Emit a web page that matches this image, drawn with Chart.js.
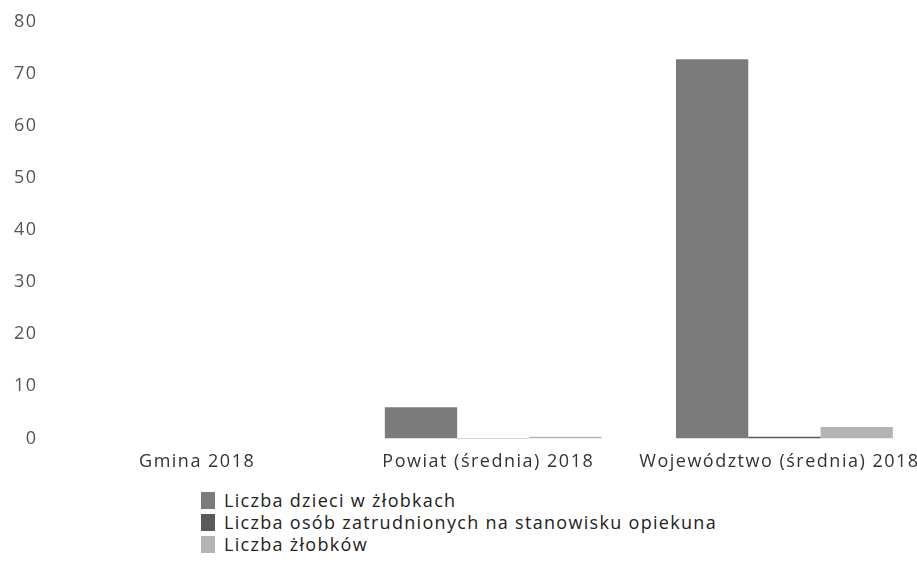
<!DOCTYPE html>
<html>
<head>
<meta charset="utf-8">
<script src="https://cdn.jsdelivr.net/npm/chart.js@4.4.0/dist/chart.umd.min.js"></script>
<style>
    body { margin: 0; background: #fff; font-family: "Open Sans", sans-serif; overflow: hidden; }
    #wrap { position: relative; width: 930px; height: 478px; }
    #legend { margin: 11px 0 0 201px; padding: 0; list-style: none; }
    #legend li { display: flex; align-items: center; height: 22px; font-size: 18px; letter-spacing: 1.3px; color: #222; }
    #legend span.box { width: 14px; height: 17px; margin-right: 9px; display: inline-block; }
</style>
</head>
<body>
<div id="wrap"><canvas id="barChart" width="930" height="478"></canvas></div>
<ul id="legend"></ul>
<script>
// Data
const categories = ['Gmina 2018', 'Powiat (średnia) 2018', 'Województwo (średnia) 2018'];
const seriesNames = ['Liczba dzieci w żłobkach', 'Liczba osób zatrudnionych na stanowisku opiekuna', 'Liczba żłobków'];
const children = [0, 6, 72.8];
const staff = [0, 0.1, 0.3];
const nurseries = [0, 0.3, 2.2];
const yTicks = [0, 10, 20, 30, 40, 50, 60, 70, 80];

const colors = ['#7b7b7b', '#5a5a5a', '#b4b4b4'];

// the reference text is slightly letter-spaced
const spacingPlugin = {
    id: 'letterSpacing',
    beforeUpdate: function(chart) { chart.ctx.letterSpacing = '1.5px'; },
    beforeDraw: function(chart) { chart.ctx.letterSpacing = '1.5px'; }
};

const ctx = document.getElementById('barChart').getContext('2d');
const chart = new Chart(ctx, {
    type: 'bar',
    data: {
        labels: categories,
        datasets: [
            { label: seriesNames[0], data: children, backgroundColor: colors[0] },
            { label: seriesNames[1], data: staff, backgroundColor: colors[1] },
            { label: seriesNames[2], data: nurseries, backgroundColor: colors[2] }
        ]
    },
    options: {
        responsive: false,
        animation: false,
        layout: { padding: { top: 6, left: 3, right: 0 } },
        datasets: {
            bar: { categoryPercentage: 0.745, barPercentage: 1.0, borderWidth: 0 }
        },
        scales: {
            y: {
                min: 0,
                max: 80,
                afterBuildTicks: function(axis) {
                    axis.ticks = yTicks.map(v => ({ value: v }));
                },
                grid: { display: false },
                border: { display: false },
                ticks: {
                    color: '#555',
                    padding: 11,
                    font: { family: 'Open Sans', size: 18 }
                }
            },
            x: {
                grid: { display: false },
                border: { display: false },
                ticks: {
                    color: '#333',
                    padding: 5,
                    maxRotation: 0,
                    labelOffset: -5,
                    font: { family: 'Open Sans', size: 18 }
                }
            }
        },
        plugins: {
            legend: { display: false },
            tooltip: { enabled: false }
        }
    },
    plugins: [spacingPlugin]
});

// Vertical legend under the chart
const legend = document.getElementById('legend');
chart.data.datasets.forEach(ds => {
    const li = document.createElement('li');
    const box = document.createElement('span');
    box.className = 'box';
    box.style.background = ds.backgroundColor;
    li.appendChild(box);
    li.appendChild(document.createTextNode(ds.label));
    legend.appendChild(li);
});
</script>
</body>
</html>
